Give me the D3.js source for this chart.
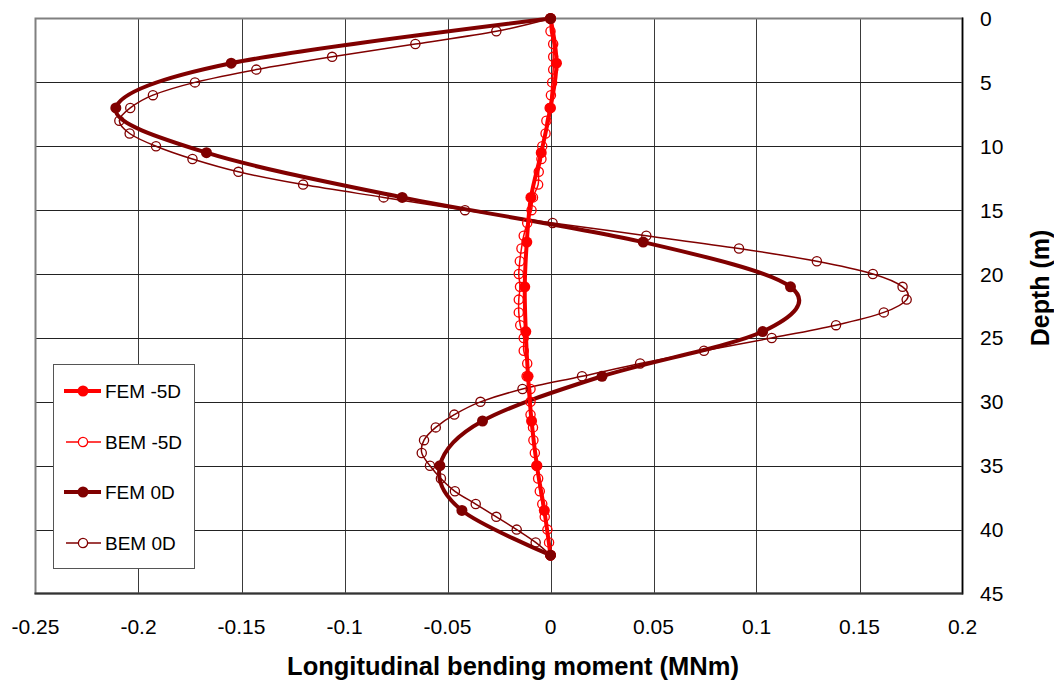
<!DOCTYPE html>
<html>
<head>
<meta charset="utf-8">
<script src="https://cdn.jsdelivr.net/npm/d3@7"></script>
<style>
    body { margin: 0; background: #fff; }
    svg { display: block; font-family: "Liberation Sans", Arial, sans-serif; }
</style>
</head>
<body>
<div id="vis"></div>
<script>

// Data ----------------------------------------------------------------------

// FEM results: one value every 3.5 m
const FEM_DEPTH = [0, 3.5, 7, 10.5, 14, 17.5, 21, 24.5, 28, 31.5, 35, 38.5, 42];
const FEM_M5D = [0, 0.0029, 0, -0.0045, -0.0095, -0.0115, -0.0125, -0.012,
    -0.0109, -0.0092, -0.0066, -0.003, 0];
const FEM_0D = [0, -0.155, -0.211, -0.167, -0.072, 0.045, 0.1165, 0.103,
    0.025, -0.033, -0.0537, -0.043, 0];

// BEM results: one value every metre
const BEM_DEPTH = d3.range(0, 43);
const BEM_M5D = [0, 0, 0.0013, 0.0013, 0.0013, 0.0008, 0.0002, -0.0004,
    -0.002, -0.0024, -0.004, -0.0044, -0.0057, -0.006, -0.0085, -0.0092,
    -0.0113, -0.013, -0.0141, -0.0149, -0.0154, -0.0148, -0.0154, -0.0154,
    -0.0147, -0.013, -0.013, -0.0113, -0.0116, -0.0097, -0.0097, -0.0097,
    -0.0085, -0.0083, -0.0076, -0.0068, -0.006, -0.0052, -0.004, -0.0028,
    -0.0015, -0.0007, 0];
const BEM_0D = [0, -0.0263, -0.0656, -0.106, -0.1428, -0.1726, -0.193,
    -0.204, -0.2093, -0.2043, -0.1915, -0.1738, -0.1515, -0.1201, -0.081,
    -0.0415, 0.001, 0.0465, 0.0915, 0.1293, 0.1565, 0.1709, 0.1729, 0.1618,
    0.1386, 0.1074, 0.0745, 0.0435, 0.0153, -0.0136, -0.034, -0.0467,
    -0.0557, -0.0614, -0.0625, -0.0585, -0.0532, -0.0464, -0.0363, -0.0263,
    -0.0164, -0.0072, 0];

const X_TICKS = [-0.25, -0.2, -0.15, -0.1, -0.05, 0, 0.05, 0.1, 0.15, 0.2];
const Y_TICKS = [0, 5, 10, 15, 20, 25, 30, 35, 40, 45];

const SERIES = [
    {name: "FEM -5D", depth: FEM_DEPTH, values: FEM_M5D, color: "#ff0000", fem: true},
    {name: "BEM -5D", depth: BEM_DEPTH, values: BEM_M5D, color: "#ff0000", fem: false},
    {name: "FEM 0D", depth: FEM_DEPTH, values: FEM_0D, color: "#800000", fem: true},
    {name: "BEM 0D", depth: BEM_DEPTH, values: BEM_0D, color: "#800000", fem: false}
];

// Chart -----------------------------------------------------------------------

const W = 1054, H = 684;
const plot = {left: 35.5, right: 962.5, top: 18.5, bottom: 593.5};

const svg = d3.select("#vis").append("svg")
    .attr("width", W)
    .attr("height", H);

const x = d3.scaleLinear().domain([-0.25, 0.2]).range([plot.left, plot.right]);
const y = d3.scaleLinear().domain([0, 45]).range([plot.top, plot.bottom]);

// Grid
svg.append("g")
    .selectAll("line")
    .data(X_TICKS.slice(1, -1))
    .join("line")
    .attr("x1", d => Math.round(x(d)) + 0.5).attr("x2", d => Math.round(x(d)) + 0.5)
    .attr("y1", plot.top).attr("y2", plot.bottom)
    .attr("stroke", "#3a3a3a").attr("stroke-width", 1);

svg.append("g")
    .selectAll("line")
    .data(Y_TICKS.slice(1, -1))
    .join("line")
    .attr("x1", plot.left).attr("x2", plot.right)
    .attr("y1", d => Math.round(y(d)) + 0.5).attr("y2", d => Math.round(y(d)) + 0.5)
    .attr("stroke", "#222").attr("stroke-width", 1);

// Frame
svg.append("rect")
    .attr("x", plot.left).attr("y", plot.top)
    .attr("width", plot.right - plot.left)
    .attr("height", plot.bottom - plot.top)
    .attr("fill", "none")
    .attr("stroke", "#808080").attr("stroke-width", 2);

svg.append("line")
    .attr("x1", plot.right).attr("x2", plot.right)
    .attr("y1", plot.top - 1).attr("y2", plot.bottom + 1)
    .attr("stroke", "#000").attr("stroke-width", 1.5);
svg.append("line")
    .attr("x1", plot.left - 1).attr("x2", plot.right)
    .attr("y1", plot.bottom).attr("y2", plot.bottom)
    .attr("stroke", "#333").attr("stroke-width", 2);

// X tick labels (plain hyphen for negatives, as in the original)
svg.append("g")
    .selectAll("text")
    .data(X_TICKS)
    .join("text")
    .attr("x", d => x(d))
    .attr("y", 634)
    .attr("text-anchor", "middle")
    .attr("font-size", 21)
    .text(d => String(d));

// Y tick labels (right side)
svg.append("g")
    .selectAll("text")
    .data(Y_TICKS)
    .join("text")
    .attr("x", 980)
    .attr("y", d => y(d) + 7.5)
    .attr("font-size", 21)
    .text(d => d);

// Axis titles
svg.append("text")
    .attr("x", 513)
    .attr("y", 675)
    .attr("text-anchor", "middle")
    .attr("font-size", 25.5)
    .attr("font-weight", "bold")
    .text("Longitudinal bending moment (MNm)");

svg.append("text")
    .attr("transform", "translate(1049,288) rotate(-90)")
    .attr("text-anchor", "middle")
    .attr("font-size", 25)
    .attr("font-weight", "bold")
    .text("Depth (m)");

// Series
const line = d3.line()
    .x(d => x(d[1]))
    .y(d => y(d[0]))
    .curve(d3.curveCatmullRom.alpha(0));

const pts = s => s.depth.map((d, i) => [d, s.values[i]]);

const drawOrder = [SERIES[2], SERIES[3], SERIES[0], SERIES[1]];

drawOrder.forEach(s => {
    svg.append("path")
        .datum(pts(s))
        .attr("d", line)
        .attr("fill", "none")
        .attr("stroke", s.color)
        .attr("stroke-width", s.fem ? 4 : 1.5)
        .attr("stroke-linejoin", "round");
});

SERIES.forEach(s => {
    svg.append("g")
        .selectAll("circle")
        .data(pts(s))
        .join("circle")
        .attr("cx", d => x(d[1]))
        .attr("cy", d => y(d[0]))
        .attr("r", s.fem ? 5.5 : 4.6)
        .attr("fill", s.fem ? s.color : "none")
        .attr("stroke", s.color)
        .attr("stroke-width", s.fem ? 0 : 1.3);
});

// Legend
const legend = svg.append("g");
legend.append("rect")
    .attr("x", 53.5).attr("y", 364.5)
    .attr("width", 141).attr("height", 204)
    .attr("fill", "#fff")
    .attr("stroke", "#555").attr("stroke-width", 1);

const legendY = [391, 442, 492, 543];
SERIES.forEach((s, i) => {
    const g = legend.append("g").attr("transform", `translate(0,${legendY[i]})`);
    g.append("line")
        .attr("x1", s.fem ? 64 : 66).attr("x2", 101)
        .attr("stroke", s.color)
        .attr("stroke-width", s.fem ? 4 : 1.5);
    g.append("circle")
        .attr("cx", 83)
        .attr("r", s.fem ? 5.5 : 4.6)
        .attr("fill", s.fem ? s.color : "#fff")
        .attr("stroke", s.color)
        .attr("stroke-width", s.fem ? 0 : 1.3);
    g.append("text")
        .attr("x", 105)
        .attr("y", 7)
        .attr("font-size", 19)
        .text(s.name);
});

</script>
</body>
</html>
